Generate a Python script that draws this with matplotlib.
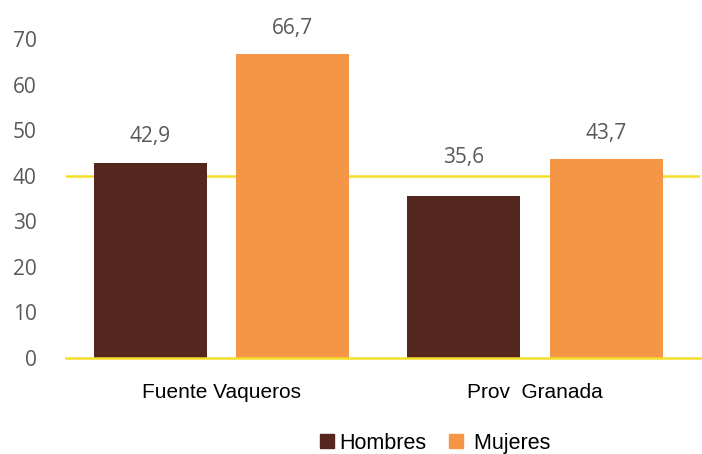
import matplotlib.pyplot as plt
from matplotlib.lines import Line2D
import numpy as np

# data
categories = ['Fuente Vaqueros', 'Prov  Granada']
hombres = [42.9, 35.6]
mujeres = [66.7, 43.7]
series_names = ['Hombres', 'Mujeres']
yticks = [0, 10, 20, 30, 40, 50, 60, 70]

brown = '#55261D'
orange = '#F49645'
yellow = '#F3DE2C'
gray = '#595959'


def label_bars(ax, bars, values, extra=None):
    # data labels above each bar, comma as decimal mark
    for i, (b, v) in enumerate(zip(bars, values)):
        dy = 11
        if extra and i in extra:
            dy += extra[i]
        ax.annotate(f'{v:.1f}'.replace('.', ','),
                    (b.get_x() + b.get_width() / 2, b.get_height()),
                    xytext=(0, dy), textcoords='offset points',
                    ha='center', va='bottom', fontsize=15, color=gray,
                    family='Open Sans', annotation_clip=False)


fig = plt.figure(figsize=(7.02, 4.54), dpi=100)
ax = fig.add_axes([0.094, 0.2115, 0.903, 0.7025])

x = np.arange(len(categories))
w = 0.36
off = 0.227
b1 = ax.bar(x - off, hombres, w, color=brown, zorder=3)
b2 = ax.bar(x + off, mujeres, w, color=orange, zorder=3)

label_bars(ax, b1, hombres, extra={1: 9})
label_bars(ax, b2, mujeres)

ax.axhline(0, color=yellow, lw=1.8, zorder=4, clip_on=False)
ax.axhline(40, color=yellow, lw=1.8, zorder=2)

ax.set_xlim(-0.495, 1.525)
ax.set_ylim(0, 70)
ax.set_yticks(yticks)
ax.set_yticklabels([str(t) for t in yticks], fontsize=15, color=gray, family='Open Sans')
ax.set_xticks(x)
ax.set_xticklabels(categories, fontsize=15, color='black', family='Liberation Sans')
ax.tick_params(axis='y', length=0, pad=21)
ax.tick_params(axis='x', length=0, pad=18)
for s in ax.spines.values():
    s.set_visible(False)

handles = [Line2D([], [], marker='s', ls='', markersize=9.5, color=brown),
           Line2D([], [], marker='s', ls='', markersize=9.5, color=orange)]
labels = [series_names[0], ' ' + series_names[1]]
fig.legend(handles, labels, loc='center', bbox_to_anchor=(0.62, 0.024),
           ncol=2, frameon=False, handletextpad=0.2, columnspacing=1.05,
           handlelength=0.7, borderpad=0.2,
           prop={'family': 'Liberation Sans', 'size': 15.5})

fig.savefig('out.png', dpi=100)
